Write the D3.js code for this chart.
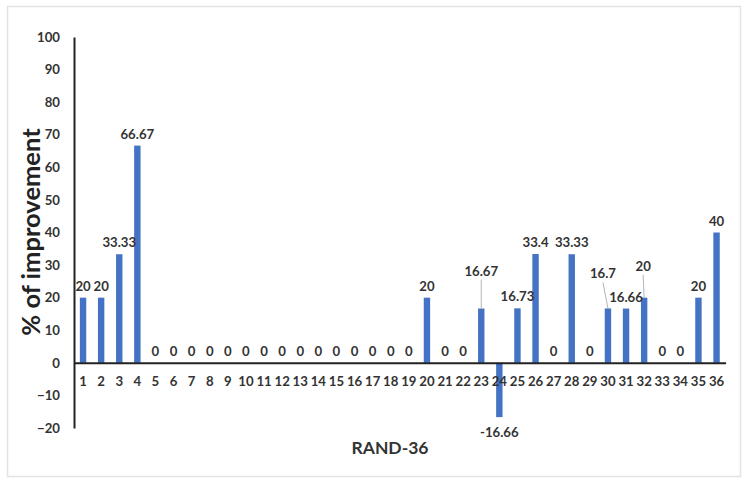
<!DOCTYPE html>
<html>
<head>
<meta charset="utf-8">
<script src="https://cdn.jsdelivr.net/npm/d3@7"></script>
<style>
  body { margin: 0; background: #fff; }
  text { font-family: Lato, "Open Sans", sans-serif; }
</style>
</head>
<body>
<script>
// data
var categories = d3.range(1, 37).map(String);
var improvement = [20, 20, 33.33, 66.67, 0, 0, 0, 0, 0, 0, 0, 0, 0, 0, 0, 0, 0, 0, 0,
  20, 0, 0, 16.67, -16.66, 16.73, 33.4, 0, 33.33, 0, 16.7, 16.66, 20, 0, 0, 20, 40];
var yTicks = [-20, -10, 0, 10, 20, 30, 40, 50, 60, 70, 80, 90, 100];

// labels pulled out with a leader line (category -> dx, dy of label from bar top)
var callouts = { "23": [0, -33], "30": [-5, -30], "32": [-1, -27] };

var W = 750, H = 489;
var x0 = 74, x1 = 725.6, yTop = 37, yBot = 428;
var fs = 13.2;

var svg = d3.select("body").append("svg")
  .attr("width", W).attr("height", H);

//outer frame
svg.append("rect")
  .attr("x", 7.5).attr("y", 6.5).attr("width", 733).attr("height", 470)
  .attr("fill", "#fff").attr("stroke", "#e2e2e2").attr("stroke-width", 1.5);

var x = d3.scaleBand().domain(categories).range([x0, x1]);
var y = d3.scaleLinear().domain([-20, 100]).range([yBot, yTop]);

//y axis
var yAxis = svg.append("g")
  .attr("transform", "translate(" + x0 + ",0)")
  .call(d3.axisLeft(y).tickValues(yTicks).tickSize(0).tickPadding(14));
yAxis.select(".domain").attr("stroke", "#222").attr("stroke-width", 2);
yAxis.selectAll("text")
  .attr("font-size", fs).attr("font-weight", "bold").attr("fill", "#333")
  .style("font-family", "Lato, sans-serif");

//bars
svg.append("g").selectAll("rect")
  .data(improvement)
  .enter()
  .append("rect")
  .attr("x", function (d, i) { return x(categories[i]) + x.bandwidth() / 2 - 3.2 })
  .attr("width", 6.4)
  .attr("y", function (d) { return y(Math.max(d, 0)) })
  .attr("height", function (d) { return Math.abs(y(d) - y(0)) })
  .attr("fill", "#4472C4");

//x axis on zero line
var xAxis = svg.append("g")
  .attr("transform", "translate(0," + y(0) + ")")
  .call(d3.axisBottom(x).tickSize(0).tickPadding(14));
xAxis.select(".domain").attr("stroke", "#222").attr("stroke-width", 2);
xAxis.selectAll("text")
  .attr("font-size", fs).attr("font-weight", "bold").attr("fill", "#333")
  .style("font-family", "Lato, sans-serif");

//value labels + leader lines
var labels = svg.append("g");
improvement.forEach(function (d, i) {
  var c = categories[i];
  var cx = x(c) + x.bandwidth() / 2;
  var lx = cx, ly;
  if (callouts[c]) {
    lx = cx + callouts[c][0];
    ly = y(d) + callouts[c][1];
    labels.append("line")
      .attr("x1", lx).attr("y1", ly + 4)
      .attr("x2", cx).attr("y2", y(d))
      .attr("stroke", "#b5b5b5").attr("stroke-width", 1);
  } else if (d < 0) {
    ly = y(d) + 20;
  } else {
    ly = y(d) - 7;
  }
  labels.append("text")
    .attr("x", lx).attr("y", ly)
    .attr("text-anchor", "middle")
    .attr("font-size", fs).attr("font-weight", "bold").attr("fill", "#333")
    .text(d);
});

//axis titles
svg.append("text")
  .attr("transform", "translate(40,232) rotate(-90)")
  .attr("text-anchor", "middle")
  .attr("font-size", 25.5).attr("font-weight", "bold").attr("fill", "#222")
  .text("% of improvement");

svg.append("text")
  .attr("x", 390).attr("y", 454)
  .attr("text-anchor", "middle")
  .attr("font-size", 17.5).attr("font-weight", "bold").attr("fill", "#333")
  .text("RAND-36");
</script>
</body>
</html>
